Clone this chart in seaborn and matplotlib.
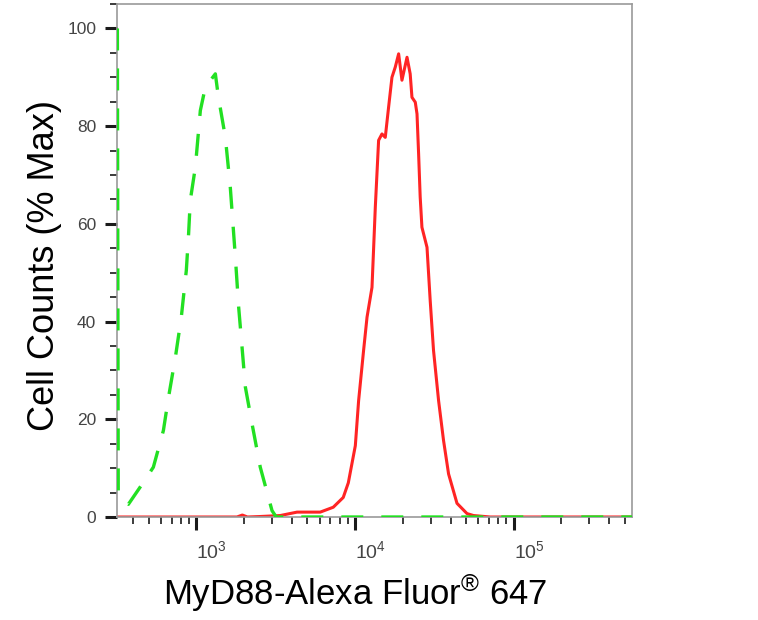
import numpy as np
import pandas as pd
import seaborn as sns
import matplotlib
matplotlib.use("Agg")
import matplotlib.pyplot as plt
from matplotlib.ticker import LogLocator, NullFormatter, FixedLocator, MultipleLocator

# 이소타입 대조군 (녹색 점선) - 형광 세기, % Max
iso_x = [318, 322, 340, 373, 464, 536, 620, 668, 738, 804, 865, 894, 916, 986, 1060,
         1140, 1318, 1377, 1524, 1637, 1762, 1849, 1941, 2037, 2244, 2529, 3000,
         3190, 10000, 100000, 557000]
iso_y = [100, 5.0, 3.4, 2.6, 7.1, 10.2, 17.7, 24.5, 32.7, 40.9, 50.5, 58.0, 64.8,
         71.6, 83.2, 88.0, 90.7, 86.0, 77.7, 67.5, 53.2, 42.9, 34.8, 26.6, 19.1,
         10.2, 1.3, 0, 0, 0, 0]

# MyD88 염색 (빨간 실선)
myd_x = [318, 1803, 1950, 2100, 2529, 3381, 4315, 6039, 7295, 8433, 9078, 10050,
         10540, 11330, 11910, 12800, 13090, 13430, 14090, 14790, 15520, 16290,
         17100, 17950, 18840, 19770, 21280, 22280, 22860, 23990, 24600, 25180,
         25760, 26420, 28440, 29790, 31260, 33650, 36140, 38900, 43950, 50820,
         55850, 71290, 557000]
myd_y = [0, 0, 0.4, 0, 0.1, 0.3, 1.0, 1.0, 2.0, 4.0, 7.0, 14.6, 23.8, 34.1, 40.9,
         47.0, 54.6, 63.4, 77.1, 78.4, 77.7, 83.9, 90.0, 92.1, 94.8, 89.4, 94.1,
         90.7, 85.9, 84.9, 82.5, 74.3, 65.5, 59.3, 55.2, 44.3, 34.1, 23.8, 15.7,
         8.8, 2.8, 0.7, 0.3, 0, 0]

y_ticks = [0, 20, 40, 60, 80, 100]
x_ticks = [1e3, 1e4, 1e5]

iso = pd.DataFrame({"x": iso_x, "y": iso_y})
myd = pd.DataFrame({"x": myd_x, "y": myd_y})

sns.set_style("white")
plt.rcParams["font.family"] = ["Liberation Sans", "DejaVu Sans"]
plt.rcParams["mathtext.fontset"] = "custom"
plt.rcParams["mathtext.rm"] = "Liberation Sans"
plt.rcParams["mathtext.it"] = "Liberation Sans:italic"
plt.rcParams["mathtext.bf"] = "Liberation Sans:bold"

fig = plt.figure(figsize=(7.58, 6.2), dpi=100)
ax = fig.add_axes([117 / 758, 1 - 517 / 620, 515 / 758, 513 / 620])

sns.lineplot(data=iso, x="x", y="y", ax=ax, color="#22e022", lw=2.4,
             linestyle=(0, (6.6, 5.4)), estimator=None, sort=False, zorder=3)
sns.lineplot(data=myd, x="x", y="y", ax=ax, color="#ff2424", lw=2.2,
             estimator=None, sort=False, zorder=2)

ax.set_xscale("log")
ax.set_xlim(10 ** 2.5, 10 ** 5.746)
ax.set_ylim(0, 105)

ax.xaxis.set_major_locator(FixedLocator(x_ticks))
ax.xaxis.set_minor_locator(LogLocator(base=10, subs=np.arange(2, 10)))
ax.xaxis.set_minor_formatter(NullFormatter())
ax.set_yticks(y_ticks)
ax.yaxis.set_minor_locator(MultipleLocator(5))

ax.tick_params(which="major", direction="out", length=9, width=2.2,
               color="#1a1a1a", labelcolor="#444444")
ax.tick_params(axis="y", which="major", labelsize=12.5, pad=6)
ax.tick_params(axis="x", which="major", labelsize=14, pad=8)
ax.tick_params(which="minor", direction="out", length=5, width=1.2, color="#1a1a1a")
ax.tick_params(top=False, right=False, bottom=True, left=True, which="both")
for lab in ax.get_xticklabels():
    lab.set_horizontalalignment("left")

for s in ax.spines.values():
    s.set_color("#9a9a9a")
    s.set_linewidth(1.2)

ax.set_xlabel("")
ax.set_ylabel("")
fig.text(45 / 758, 1 - 265 / 620, "Cell Counts (% Max)", rotation=90,
         ha="center", va="center", fontsize=26, color="black")
fig.text(355 / 758, 1 - 593 / 620, "MyD88-Alexa Fluor$^{®}$ 647",
         ha="center", va="center", fontsize=25, color="black")

fig.savefig("out.png", dpi=100)
